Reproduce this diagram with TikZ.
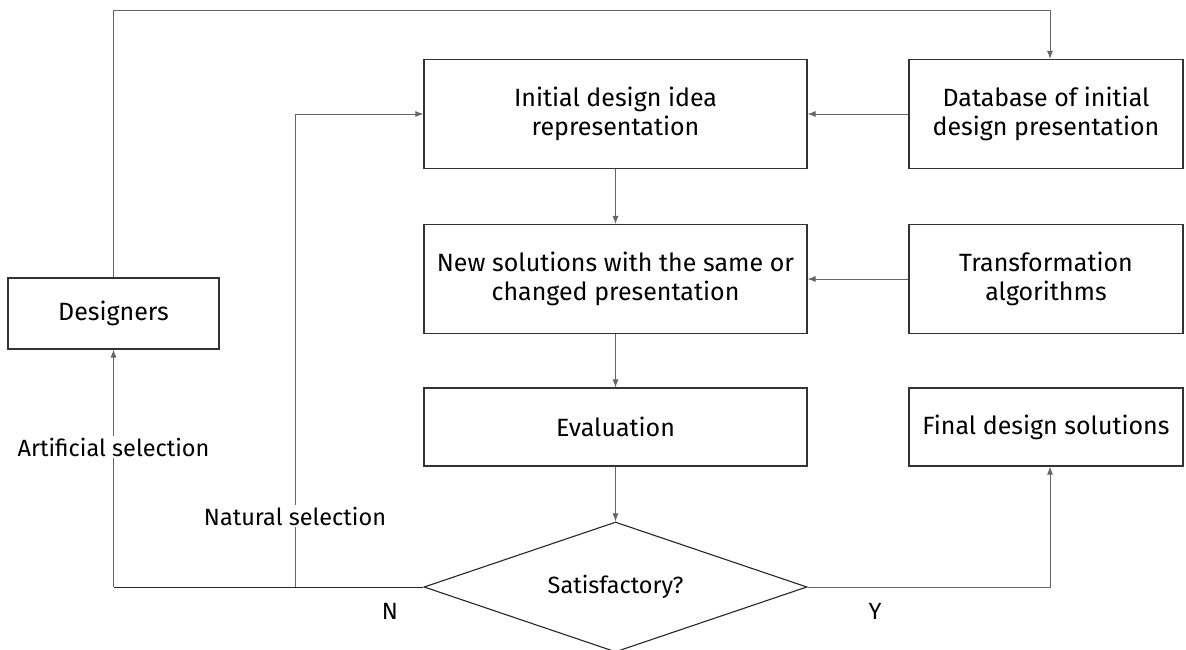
\documentclass[tikz,border=0pt]{standalone}
\usepackage{fontspec}
\setmainfont{Fira Sans}
\usetikzlibrary{arrows.meta,shapes.geometric}
\begin{document}
\begin{tikzpicture}[x=1pt,y=-1pt,
  box/.style={draw=black!80,line width=1.1pt,minimum width=383pt,minimum height=109pt,inner sep=0pt,align=center,font=\fontsize{25}{28.5}\selectfont},
  sbox/.style={box,minimum width=274pt},
  conn/.style={draw=black!60,line width=0.9pt},
  arr/.style={conn,-{Latex[length=8pt,width=6pt]}},
  lab/.style={fill=white,inner sep=2pt,font=\fontsize{23.5}{27}\selectfont}]
\useasboundingbox (0,0) rectangle (1186,650);
\node[box] (init) at (615.5,114) {Initial design idea\\representation};
\node[sbox] (db) at (1046,114) {Database of initial\\design presentation};
\node[box] (new) at (615.5,279) {New solutions with the same or\\changed presentation};
\node[sbox] (trans) at (1046,279) {Transformation\\algorithms};
\node[box,minimum height=78pt] (eval) at (615.5,427) {Evaluation};
\node[sbox,minimum height=78pt] (final) at (1046,427) {Final design solutions};
\node[box,minimum width=211pt,minimum height=71pt] (des) at (113.5,313.5) {Designers};
\node[draw=black!85,line width=1.1pt,diamond,aspect=2.95,minimum width=383pt,minimum height=130pt,inner sep=0pt,font=\fontsize{23.5}{27}\selectfont] (sat) at (615.5,587) {\raisebox{-4pt}{Satisfactory?}};
\coordinate (top) at (113.5,10);
\coordinate (topr) at (1050,10);
\coordinate (nl) at (113.5,587);
\coordinate (nm) at (295,587);
\coordinate (yr) at (1050,587);
\draw[arr] (db.west) -- (init.east);
\draw[arr] (trans.west) -- (new.east);
\draw[arr] (init.south) -- (new.north);
\draw[arr] (new.south) -- (eval.north);
\draw[arr] (eval.south) -- (sat.north);
\draw[conn] (des.north) -- (top) -- (topr);
\draw[arr] (topr) -- (topr |- db.north);
\draw[arr] (sat.east) -- (yr) -- (yr |- final.south);
\draw[conn,draw=black!85] (sat.west) -- (nl);
\draw[arr] (nl) -- (des.south);
\draw[arr] (nm) -- (nm |- init.west) -- (init.west);
\node[lab] (artlab) at (113.5,447) {Artificial selection};
\node[lab] (natlab) at (295,516) {Natural selection};
\node[font=\fontsize{23.5}{27}\selectfont] (nlab) at (390,611) {N};
\node[font=\fontsize{23.5}{27}\selectfont] (ylab) at (875,611) {Y};
\end{tikzpicture}
\end{document}
